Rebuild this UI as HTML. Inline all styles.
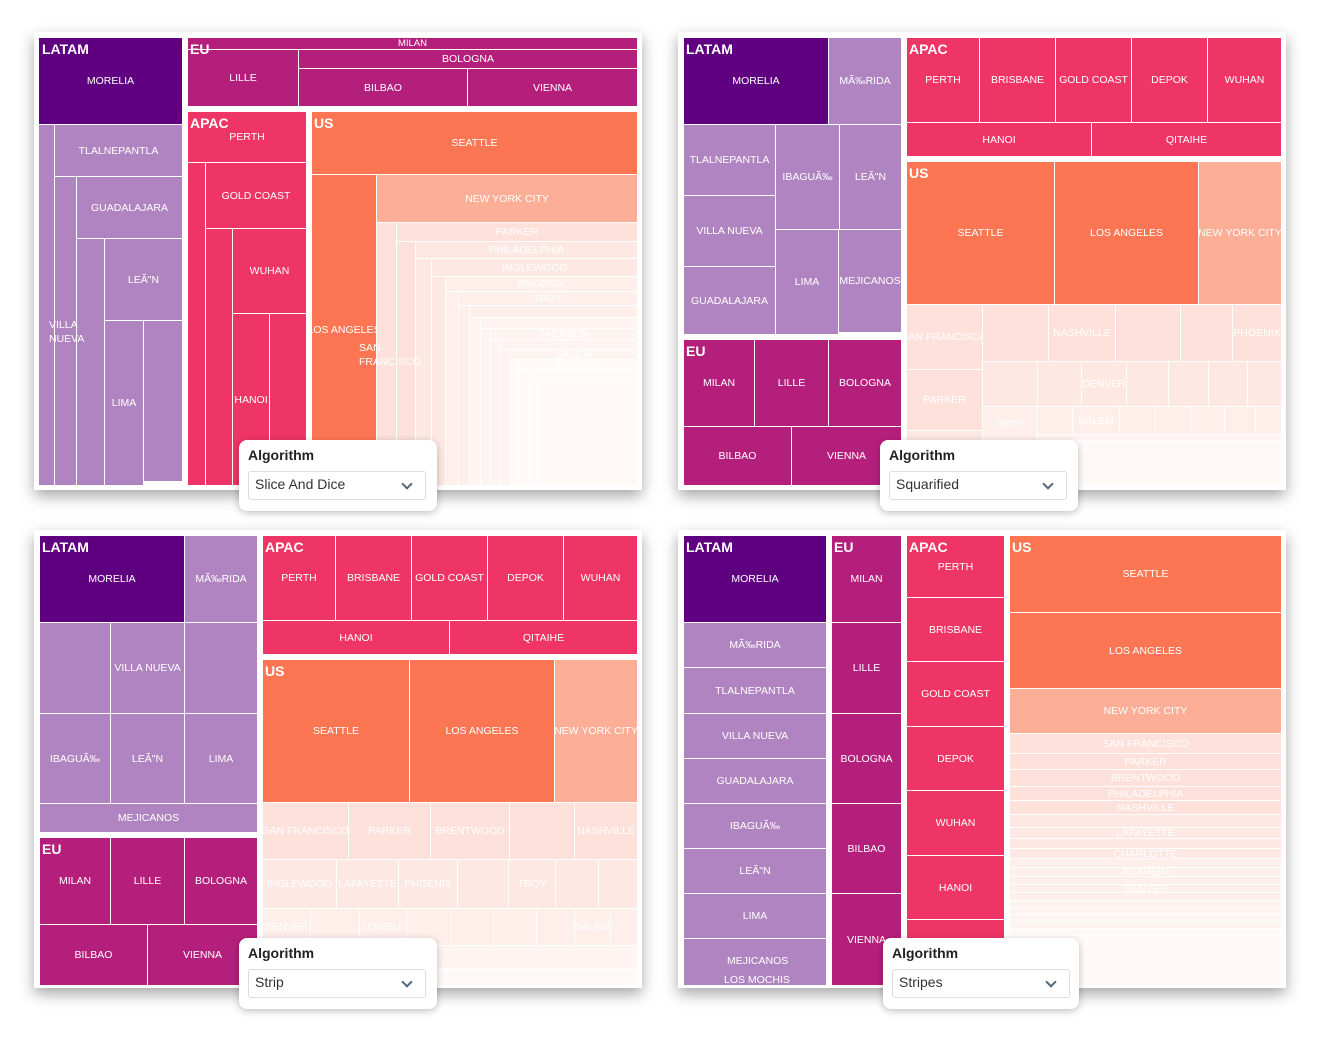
<!DOCTYPE html>
<html><head><meta charset="utf-8"><style>
body{margin:0;width:1330px;height:1044px;background:#fff;position:relative;overflow:hidden;font-family:"Liberation Sans",sans-serif}
.card{position:absolute;background:#fff;box-shadow:0 6px 14px rgba(0,0,0,.35)}
i{position:absolute;display:flex;align-items:center;justify-content:center;box-sizing:border-box;border-left:1px solid #fff;border-top:1px solid #fff;color:#fff;font-style:normal;font-family:"Liberation Sans Narrow","Liberation Sans",sans-serif;font-size:10.5px;white-space:nowrap;overflow:visible}
.d{background:#5f0080}.l{background:#b084c0}.e{background:#b51f7c}.a{background:#ee3566}.u{background:#fd7654}.n{background:#fdae97}
.f1{background:#fde1da}.f2{background:#fde8e3}.f3{background:#feefeb}.f4{background:#fff4f1}.f5{background:#fffaf8}
b{position:absolute;color:#fff;font-size:14px;font-weight:bold;font-family:"Liberation Sans Narrow","Liberation Sans",sans-serif;z-index:2}
s{position:absolute;text-decoration:none;color:#fff;font-family:"Liberation Sans Narrow","Liberation Sans",sans-serif;font-size:10.5px;z-index:2;line-height:14px}
.tt{position:absolute;width:198px;height:71px;background:#fff;border-radius:8px;box-shadow:0 2px 8px rgba(0,0,0,.25);z-index:5}
.tt .h{position:absolute;left:9px;top:7px;font-weight:bold;font-size:14px;color:#222}
.tt .sel{position:absolute;left:9px;top:31px;width:178px;height:29px;border:1px solid #ddd;border-radius:3px;box-sizing:border-box;font-size:14px;color:#333;padding:4px 6px}
.tt .sel:after{content:"";position:absolute;right:14px;top:8px;width:6px;height:6px;border-right:2px solid #567;border-bottom:2px solid #567;transform:rotate(45deg)}
</style></head><body>
<div class="card" style="left:34px;top:32px;width:608px;height:458px"></div>
<div class="card" style="left:678px;top:32px;width:608px;height:458px"></div>
<div class="card" style="left:34px;top:530px;width:608px;height:458px"></div>
<div class="card" style="left:678px;top:530px;width:608px;height:458px"></div>

<!-- Panel 1 Slice and Dice -->
<i class="d" style="left:38px;top:37px;width:144px;height:87px">MORELIA</i>
<i class="l" style="left:38px;top:124px;width:16px;height:361px"></i>
<i class="l" style="left:54px;top:124px;width:128px;height:52px">TLALNEPANTLA</i>
<i class="l" style="left:54px;top:176px;width:22px;height:309px"></i>
<i class="l" style="left:76px;top:176px;width:106px;height:62px">GUADALAJARA</i>
<i class="l" style="left:76px;top:238px;width:28px;height:247px"></i>
<i class="l" style="left:104px;top:238px;width:78px;height:82px">LEÃ"N</i>
<i class="l" style="left:104px;top:320px;width:39px;height:165px">LIMA</i>
<i class="l" style="left:143px;top:320px;width:39px;height:161px"></i>
<s style="left:49px;top:318px">VILLA<br>NUEVA</s>
<b style="left:42px;top:41px">LATAM</b>
<i class="e" style="left:187px;top:37px;width:450px;height:12px;font-size:9.5px">MILAN</i>
<i class="e" style="left:187px;top:49px;width:111px;height:57px">LILLE</i>
<i class="e" style="left:298px;top:49px;width:339px;height:19px">BOLOGNA</i>
<i class="e" style="left:298px;top:68px;width:169px;height:38px">BILBAO</i>
<i class="e" style="left:467px;top:68px;width:170px;height:38px">VIENNA</i>
<b style="left:190px;top:41px">EU</b>
<i class="a" style="left:187px;top:111px;width:119px;height:51px">PERTH</i>
<i class="a" style="left:187px;top:162px;width:18px;height:323px"></i>
<i class="a" style="left:205px;top:162px;width:101px;height:66px">GOLD COAST</i>
<i class="a" style="left:205px;top:228px;width:27px;height:257px"></i>
<i class="a" style="left:232px;top:228px;width:74px;height:85px">WUHAN</i>
<i class="a" style="left:232px;top:313px;width:37px;height:172px">HANOI</i>
<i class="a" style="left:269px;top:313px;width:37px;height:172px"></i>
<b style="left:190px;top:115px">APAC</b>
<i class="u" style="left:311px;top:111px;width:326px;height:63px">SEATTLE</i>
<i class="u" style="left:311px;top:174px;width:65px;height:311px">LOS ANGELES</i>
<i class="n" style="left:376px;top:174px;width:261px;height:48px">NEW YORK CITY</i>
<i class="f1" style="left:376px;top:222px;width:20px;height:263px"></i>
<i class="f1" style="left:396px;top:222px;width:241px;height:19px">PARKER</i>
<i class="f1" style="left:396px;top:241px;width:19px;height:244px"></i>
<i class="f2" style="left:415px;top:241px;width:222px;height:17px">PHILADELPHIA</i>
<i class="f2" style="left:415px;top:258px;width:16px;height:227px"></i>
<i class="f2" style="left:431px;top:258px;width:206px;height:18px">INGLEWOOD</i>
<i class="f2" style="left:431px;top:276px;width:14px;height:209px"></i>
<i class="f3" style="left:445px;top:276px;width:192px;height:15px">PHOENIX</i>
<i class="f3" style="left:445px;top:291px;width:13px;height:194px"></i>
<i class="f3" style="left:458px;top:291px;width:179px;height:14px">TROY</i>
<i class="f3" style="left:458px;top:305px;width:11px;height:180px"></i>
<i class="f3" style="left:469px;top:305px;width:168px;height:12px"></i>
<i class="f4" style="left:469px;top:317px;width:11px;height:168px"></i>
<i class="f4" style="left:480px;top:317px;width:157px;height:11px"></i>
<i class="f4" style="left:480px;top:328px;width:10px;height:157px"></i>
<i class="f4" style="left:490px;top:328px;width:147px;height:11px">JACKSON</i>
<i class="f4" style="left:490px;top:339px;width:10px;height:146px"></i>
<i class="f4" style="left:500px;top:339px;width:137px;height:10px"></i>
<i class="f4" style="left:500px;top:349px;width:10px;height:136px"></i>
<i class="f4" style="left:510px;top:349px;width:127px;height:10px">SALEM</i>
<i class="f5" style="left:510px;top:359px;width:9px;height:126px"></i>
<i class="f5" style="left:519px;top:359px;width:118px;height:10px">AURORA</i>
<i class="f5" style="left:519px;top:369px;width:9px;height:116px"></i>
<i class="f5" style="left:528px;top:369px;width:109px;height:9px"></i>
<i class="f5" style="left:528px;top:378px;width:8px;height:107px"></i>
<i class="f5" style="left:536px;top:378px;width:101px;height:107px"></i>
<s style="left:359px;top:341px">SAN<br>FRANCISCO</s>
<b style="left:314px;top:115px">US</b>
<div class="tt" style="left:239px;top:440px"><div class="h">Algorithm</div><div class="sel">Slice And Dice</div></div>

<!-- Panel 2 Squarified -->
<i class="d" style="left:683px;top:37px;width:145px;height:87px">MORELIA</i>
<i class="l" style="left:828px;top:37px;width:73px;height:87px">MÃ‰RIDA</i>
<i class="l" style="left:683px;top:124px;width:92px;height:71px">TLALNEPANTLA</i>
<i class="l" style="left:683px;top:195px;width:92px;height:71px">VILLA NUEVA</i>
<i class="l" style="left:683px;top:266px;width:92px;height:68px">GUADALAJARA</i>
<i class="l" style="left:775px;top:124px;width:64px;height:105px">IBAGUÃ‰</i>
<i class="l" style="left:839px;top:124px;width:62px;height:105px">LEÃ"N</i>
<i class="l" style="left:775px;top:229px;width:63px;height:105px">LIMA</i>
<i class="l" style="left:838px;top:229px;width:63px;height:103px">MEJICANOS</i>
<b style="left:686px;top:41px">LATAM</b>
<i class="e" style="left:683px;top:339px;width:71px;height:87px">MILAN</i>
<i class="e" style="left:754px;top:339px;width:74px;height:87px">LILLE</i>
<i class="e" style="left:828px;top:339px;width:73px;height:87px">BOLOGNA</i>
<i class="e" style="left:683px;top:426px;width:108px;height:59px">BILBAO</i>
<i class="e" style="left:791px;top:426px;width:110px;height:59px">VIENNA</i>
<b style="left:686px;top:343px">EU</b>
<i class="a" style="left:906px;top:37px;width:73px;height:85px">PERTH</i>
<i class="a" style="left:979px;top:37px;width:76px;height:85px">BRISBANE</i>
<i class="a" style="left:1055px;top:37px;width:76px;height:85px">GOLD COAST</i>
<i class="a" style="left:1131px;top:37px;width:76px;height:85px">DEPOK</i>
<i class="a" style="left:1207px;top:37px;width:74px;height:85px">WUHAN</i>
<i class="a" style="left:906px;top:122px;width:185px;height:34px">HANOI</i>
<i class="a" style="left:1091px;top:122px;width:190px;height:34px">QITAIHE</i>
<b style="left:909px;top:41px">APAC</b>
<i class="u" style="left:906px;top:161px;width:148px;height:143px">SEATTLE</i>
<i class="u" style="left:1054px;top:161px;width:144px;height:143px">LOS ANGELES</i>
<i class="n" style="left:1198px;top:161px;width:83px;height:143px">NEW YORK CITY</i>
<i class="f1" style="left:906px;top:304px;width:76px;height:65px">SAN FRANCISCO</i>
<i class="f1" style="left:906px;top:369px;width:76px;height:61px">PARKER</i>
<i class="f2" style="left:906px;top:430px;width:76px;height:55px"></i>
<i class="f1" style="left:982px;top:304px;width:66px;height:57px"></i>
<i class="f1" style="left:1048px;top:304px;width:67px;height:57px">NASHVILLE</i>
<i class="f1" style="left:1115px;top:304px;width:65px;height:57px"></i>
<i class="f1" style="left:1180px;top:304px;width:52px;height:57px"></i>
<i class="f1" style="left:1232px;top:304px;width:49px;height:57px">PHOENIX</i>
<i class="f2" style="left:982px;top:361px;width:55px;height:45px"></i>
<i class="f2" style="left:1037px;top:361px;width:44px;height:45px"></i>
<i class="f2" style="left:1081px;top:361px;width:45px;height:45px">DENVER</i>
<i class="f2" style="left:1126px;top:361px;width:42px;height:45px"></i>
<i class="f2" style="left:1168px;top:361px;width:40px;height:45px"></i>
<i class="f2" style="left:1208px;top:361px;width:39px;height:45px"></i>
<i class="f2" style="left:1247px;top:361px;width:34px;height:45px"></i>
<i class="f3" style="left:982px;top:406px;width:54px;height:34px">TROY</i>
<i class="f3" style="left:1036px;top:406px;width:36px;height:28px"></i>
<i class="f3" style="left:1072px;top:406px;width:47px;height:28px">SALEM</i>
<i class="f3" style="left:1119px;top:406px;width:36px;height:28px"></i>
<i class="f3" style="left:1155px;top:406px;width:35px;height:28px"></i>
<i class="f3" style="left:1190px;top:406px;width:34px;height:28px"></i>
<i class="f3" style="left:1224px;top:406px;width:31px;height:28px"></i>
<i class="f3" style="left:1255px;top:406px;width:26px;height:28px"></i>
<i class="f4" style="left:1036px;top:434px;width:245px;height:26px"></i>
<i class="f5" style="left:982px;top:440px;width:299px;height:45px"></i>
<b style="left:909px;top:165px">US</b>
<div class="tt" style="left:880px;top:440px"><div class="h">Algorithm</div><div class="sel">Squarified</div></div>

<!-- Panel 3 Strip -->
<i class="d" style="left:39px;top:535px;width:145px;height:87px">MORELIA</i>
<i class="l" style="left:184px;top:535px;width:73px;height:87px">MÃ‰RIDA</i>
<i class="l" style="left:39px;top:622px;width:71px;height:91px"></i>
<i class="l" style="left:110px;top:622px;width:74px;height:91px">VILLA NUEVA</i>
<i class="l" style="left:184px;top:622px;width:73px;height:91px"></i>
<i class="l" style="left:39px;top:713px;width:71px;height:90px">IBAGUÃ‰</i>
<i class="l" style="left:110px;top:713px;width:74px;height:90px">LEÃ"N</i>
<i class="l" style="left:184px;top:713px;width:73px;height:90px">LIMA</i>
<i class="l" style="left:39px;top:803px;width:218px;height:29px">MEJICANOS</i>
<b style="left:42px;top:539px">LATAM</b>
<i class="e" style="left:39px;top:837px;width:71px;height:87px">MILAN</i>
<i class="e" style="left:110px;top:837px;width:74px;height:87px">LILLE</i>
<i class="e" style="left:184px;top:837px;width:73px;height:87px">BOLOGNA</i>
<i class="e" style="left:39px;top:924px;width:108px;height:61px">BILBAO</i>
<i class="e" style="left:147px;top:924px;width:110px;height:61px">VIENNA</i>
<b style="left:42px;top:841px">EU</b>
<i class="a" style="left:262px;top:535px;width:73px;height:85px">PERTH</i>
<i class="a" style="left:335px;top:535px;width:76px;height:85px">BRISBANE</i>
<i class="a" style="left:411px;top:535px;width:76px;height:85px">GOLD COAST</i>
<i class="a" style="left:487px;top:535px;width:76px;height:85px">DEPOK</i>
<i class="a" style="left:563px;top:535px;width:74px;height:85px">WUHAN</i>
<i class="a" style="left:262px;top:620px;width:187px;height:34px">HANOI</i>
<i class="a" style="left:449px;top:620px;width:188px;height:34px">QITAIHE</i>
<b style="left:265px;top:539px">APAC</b>
<i class="u" style="left:262px;top:659px;width:147px;height:143px">SEATTLE</i>
<i class="u" style="left:409px;top:659px;width:145px;height:143px">LOS ANGELES</i>
<i class="n" style="left:554px;top:659px;width:83px;height:143px">NEW YORK CITY</i>
<i class="f1" style="left:262px;top:802px;width:86px;height:57px">SAN FRANCISCO</i>
<i class="f1" style="left:348px;top:802px;width:82px;height:57px">PARKER</i>
<i class="f1" style="left:430px;top:802px;width:79px;height:57px">BRENTWOOD</i>
<i class="f1" style="left:509px;top:802px;width:65px;height:57px"></i>
<i class="f1" style="left:574px;top:802px;width:63px;height:57px">NASHVILLE</i>
<i class="f2" style="left:262px;top:859px;width:74px;height:49px">INGLEWOOD</i>
<i class="f2" style="left:336px;top:859px;width:62px;height:49px">LAFAYETTE</i>
<i class="f2" style="left:398px;top:859px;width:59px;height:49px">PHOENIX</i>
<i class="f2" style="left:457px;top:859px;width:51px;height:49px"></i>
<i class="f2" style="left:508px;top:859px;width:47px;height:49px">TROY</i>
<i class="f2" style="left:555px;top:859px;width:43px;height:49px"></i>
<i class="f2" style="left:598px;top:859px;width:39px;height:49px"></i>
<i class="f3" style="left:262px;top:908px;width:48px;height:37px">DENVER</i>
<i class="f3" style="left:310px;top:908px;width:49px;height:37px"></i>
<i class="f3" style="left:359px;top:908px;width:47px;height:37px">LOWELL</i>
<i class="f3" style="left:406px;top:908px;width:45px;height:37px"></i>
<i class="f3" style="left:451px;top:908px;width:42px;height:37px"></i>
<i class="f3" style="left:493px;top:908px;width:43px;height:37px"></i>
<i class="f3" style="left:536px;top:908px;width:38px;height:37px"></i>
<i class="f3" style="left:574px;top:908px;width:36px;height:37px">SALEM</i>
<i class="f3" style="left:610px;top:908px;width:27px;height:37px"></i>
<i class="f4" style="left:262px;top:945px;width:375px;height:23px"></i>
<i class="f5" style="left:262px;top:968px;width:375px;height:17px"></i>
<b style="left:265px;top:663px">US</b>
<div class="tt" style="left:239px;top:938px"><div class="h">Algorithm</div><div class="sel">Strip</div></div>

<!-- Panel 4 Stripes -->
<i class="d" style="left:683px;top:535px;width:143px;height:87px">MORELIA</i>
<i class="l" style="left:683px;top:622px;width:143px;height:45px">MÃ‰RIDA</i>
<i class="l" style="left:683px;top:667px;width:143px;height:46px">TLALNEPANTLA</i>
<i class="l" style="left:683px;top:713px;width:143px;height:45px">VILLA NUEVA</i>
<i class="l" style="left:683px;top:758px;width:143px;height:45px">GUADALAJARA</i>
<i class="l" style="left:683px;top:803px;width:143px;height:45px">IBAGUÃ‰</i>
<i class="l" style="left:683px;top:848px;width:143px;height:45px">LEÃ"N</i>
<i class="l" style="left:683px;top:893px;width:143px;height:45px">LIMA</i>
<i class="l" style="left:683px;top:938px;width:143px;height:47px"></i>
<s style="left:727px;top:954px">MEJICANOS</s>
<s style="left:724px;top:973px">LOS MOCHIS</s>
<b style="left:686px;top:539px">LATAM</b>
<i class="e" style="left:831px;top:535px;width:70px;height:87px">MILAN</i>
<i class="e" style="left:831px;top:622px;width:70px;height:91px">LILLE</i>
<i class="e" style="left:831px;top:713px;width:70px;height:90px">BOLOGNA</i>
<i class="e" style="left:831px;top:803px;width:70px;height:90px">BILBAO</i>
<i class="e" style="left:831px;top:893px;width:70px;height:92px">VIENNA</i>
<b style="left:834px;top:539px">EU</b>
<i class="a" style="left:906px;top:535px;width:98px;height:62px">PERTH</i>
<i class="a" style="left:906px;top:597px;width:98px;height:64px">BRISBANE</i>
<i class="a" style="left:906px;top:661px;width:98px;height:65px">GOLD COAST</i>
<i class="a" style="left:906px;top:726px;width:98px;height:64px">DEPOK</i>
<i class="a" style="left:906px;top:790px;width:98px;height:65px">WUHAN</i>
<i class="a" style="left:906px;top:855px;width:98px;height:64px">HANOI</i>
<i class="a" style="left:906px;top:919px;width:98px;height:66px"></i>
<b style="left:909px;top:539px">APAC</b>
<i class="u" style="left:1009px;top:535px;width:272px;height:77px">SEATTLE</i>
<i class="u" style="left:1009px;top:612px;width:272px;height:76px">LOS ANGELES</i>
<i class="n" style="left:1009px;top:688px;width:272px;height:45px">NEW YORK CITY</i>
<i class="f1" style="left:1009px;top:733px;width:272px;height:20px">SAN FRANCISCO</i>
<i class="f1" style="left:1009px;top:753px;width:272px;height:16px">PARKER</i>
<i class="f1" style="left:1009px;top:769px;width:272px;height:17px">BRENTWOOD</i>
<i class="f1" style="left:1009px;top:786px;width:272px;height:14px">PHILADELPHIA</i>
<i class="f1" style="left:1009px;top:800px;width:272px;height:14px">NASHVILLE</i>
<i class="f2" style="left:1009px;top:814px;width:272px;height:13px"></i>
<i class="f2" style="left:1009px;top:827px;width:272px;height:11px">LAFAYETTE</i>
<i class="f2" style="left:1009px;top:838px;width:272px;height:10px"></i>
<i class="f2" style="left:1009px;top:848px;width:272px;height:10px">CHARLOTTE</i>
<i class="f3" style="left:1009px;top:858px;width:272px;height:9px"></i>
<i class="f3" style="left:1009px;top:867px;width:272px;height:9px">ANAHEIM</i>
<i class="f3" style="left:1009px;top:876px;width:272px;height:8px"></i>
<i class="f3" style="left:1009px;top:884px;width:272px;height:8px">DENVER</i>
<i class="f3" style="left:1009px;top:892px;width:272px;height:8px"></i>
<i class="f4" style="left:1009px;top:900px;width:272px;height:7px"></i>
<i class="f4" style="left:1009px;top:907px;width:272px;height:7px"></i>
<i class="f4" style="left:1009px;top:914px;width:272px;height:7px"></i>
<i class="f4" style="left:1009px;top:921px;width:272px;height:7px"></i>
<i class="f5" style="left:1009px;top:928px;width:272px;height:7px"></i>
<i class="f5" style="left:1009px;top:935px;width:272px;height:50px"></i>
<b style="left:1012px;top:539px">US</b>
<div class="tt" style="left:883px;top:938px;width:196px"><div class="h">Algorithm</div><div class="sel">Stripes</div></div>
</body></html>
